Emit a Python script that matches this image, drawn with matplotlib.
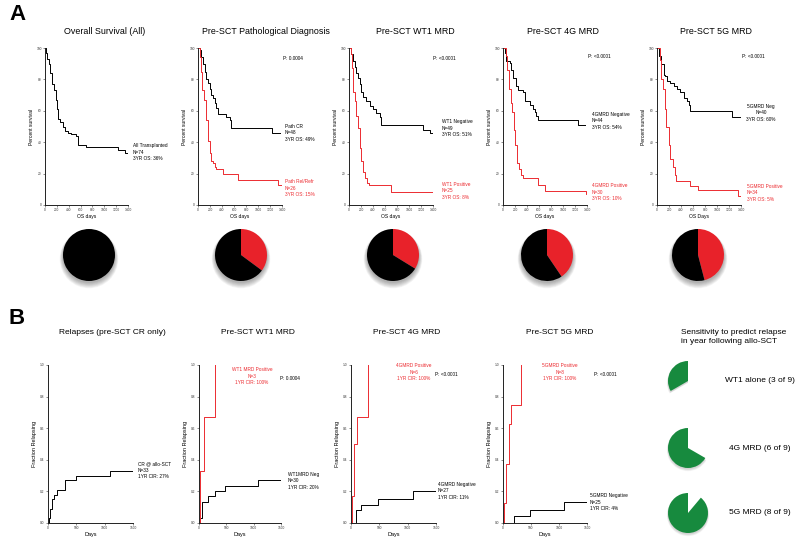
import matplotlib
matplotlib.use('Agg')
import matplotlib.pyplot as plt
from matplotlib.patches import Circle

plt.rcParams['font.family'] = ['Liberation Sans', 'DejaVu Sans']

W, H = 800, 544
fig = plt.figure(figsize=(8, 5.44), dpi=100)
fig.patch.set_facecolor('white')

RED = '#ec2b30'
PIE_RED = '#e8222a'
GREEN = '#178a3e'

# ---------------- data: panel A (overall survival, %) ----------------
os_all_t = [0, 20, 40, 60, 80, 110, 125, 155, 180, 205, 225, 250, 300, 340, 385, 440, 520, 565, 690, 1235, 1345]
os_all_s = [100, 97, 93, 90, 84, 81, 77, 73, 67, 61, 55, 53, 50, 47, 46, 45, 44, 38, 37, 35, 33]
os_all_end = 1400

path_cr_t = [0, 28, 56, 84, 112, 140, 167, 195, 223, 251, 279, 307, 335, 474, 530, 558, 1228]
path_cr_s = [100, 98.5, 94, 90, 85, 80, 78, 74, 70, 68, 65, 62, 58, 56, 54, 49, 46]
path_cr_end = 1370
path_rel_t = [0, 39, 56, 73, 100, 140, 167, 195, 223, 251, 279, 307, 418, 670, 1340]
path_rel_s = [100, 94, 85, 73, 67, 54, 41, 33, 28, 27, 24, 23, 20, 16, 13]
path_rel_end = 1395

wt1_neg_t = [0, 39, 67, 95, 123, 151, 179, 207, 234, 290, 346, 402, 458, 513, 541, 1239, 1350]
wt1_neg_s = [100, 96, 91.5, 88, 84, 81, 77, 72, 69, 66, 63, 61, 58.5, 56, 51, 48, 46]
wt1_neg_end = 1410
wt1_pos_t = [0, 28, 50, 67, 95, 123, 151, 179, 207, 234, 262, 301, 335, 700]
wt1_pos_s = [100, 96, 87, 72, 66, 57, 49, 36, 28, 21, 17, 14, 12.5, 8]
wt1_pos_end = 1420

g4_neg_t = [0, 28, 56, 112, 140, 167, 223, 251, 335, 363, 446, 502, 530, 558, 586, 1256]
g4_neg_s = [100, 97, 91.5, 90.5, 86, 81, 76, 73, 72, 66, 64, 61, 59, 57, 54, 51]
g4_neg_end = 1370
g4_pos_t = [0, 45, 73, 95, 128, 156, 179, 206, 234, 268, 307, 335, 586, 698, 1380]
g4_pos_s = [100, 95, 86, 74, 65, 59, 48, 38, 27, 23, 19, 17, 13, 9, 7]
g4_pos_end = 1420

g5_neg_t = [0, 28, 66, 111, 138, 166, 221, 277, 332, 387, 442, 498, 525, 553, 1244]
g5_neg_s = [100, 95, 89.5, 83, 82, 79, 78, 76, 74, 72, 68, 66, 64, 60, 56]
g5_neg_end = 1410
g5_pos_t = [0, 44, 72, 100, 127, 155, 194, 221, 265, 304, 321, 553, 691, 1350]
g5_pos_s = [100, 92.5, 80, 74, 61, 50, 38, 29, 24, 19, 15, 12, 9.5, 6]
g5_pos_end = 1420

# pies of panel A: patients negative (black) / positive (red)
pie_black = [74, 48, 49, 44, 40]
pie_red = [0, 26, 25, 30, 34]

# ---------------- data: panel B (cumulative incidence of relapse) ----------------
cr_t = [0, 18, 41, 71, 100, 159, 294, 488, 1088]
cr_v = [0, 0.03, 0.09, 0.15, 0.18, 0.21, 0.27, 0.30, 0.33]
cr_end = 1500
b_wt1_pos_t = [0, 25, 92, 300]
b_wt1_pos_v = [0, 0.33, 0.67, 1.0]
b_wt1_pos_end = 300
b_wt1_neg_t = [0, 12, 49, 165, 288, 483, 1083]
b_wt1_neg_v = [0, 0.03, 0.135, 0.168, 0.2, 0.232, 0.273]
b_wt1_neg_end = 1500
b_g4_pos_t = [0, 24, 47, 100, 307]
b_g4_pos_v = [0, 0.17, 0.5, 0.67, 1.0]
b_g4_pos_end = 307
b_g4_neg_t = [0, 83, 177, 484, 1092]
b_g4_neg_v = [0, 0.08, 0.116, 0.15, 0.2]
b_g4_neg_end = 1500
b_g5_pos_t = [0, 18, 60, 101, 143, 321]
b_g5_pos_v = [0, 0.125, 0.375, 0.625, 0.75, 1.0]
b_g5_pos_end = 321
b_g5_neg_t = [0, 190, 488, 1095]
b_g5_neg_v = [0, 0.042, 0.08, 0.133]
b_g5_neg_end = 1500

sens_labels = ['WT1 alone (3 of 9)', '4G MRD (6 of 9)', '5G MRD (8 of 9)']
sens_hits = [3, 6, 8]
sens_total = 9

a_titles = ['Overall Survival (All)', 'Pre-SCT Pathological Diagnosis', 'Pre-SCT WT1 MRD',
            'Pre-SCT 4G MRD', 'Pre-SCT 5G MRD']
b_titles = ['Relapses (pre-SCT CR only)', 'Pre-SCT WT1 MRD', 'Pre-SCT 4G MRD', 'Pre-SCT 5G MRD']
os_xticks = [0, 200, 400, 600, 800, 1000, 1200, 1400]
os_yticks = [0, 20, 40, 60, 80, 100]
cir_xticks = [0, 500, 1000, 1500]
cir_yticks = [0.0, 0.2, 0.4, 0.6, 0.8, 1.0]

ANN = 3.4  # annotation font size


def px_axes(l, t, r, b):
    return fig.add_axes([l / W, 1 - b / H, (r - l) / W, (b - t) / H])


def ftxt(x, y, s, **kw):
    kw.setdefault('va', 'center')
    fig.text(x / W, 1 - y / H, s, **kw)


def style_axes(ax):
    for sp in ['top', 'right']:
        ax.spines[sp].set_visible(False)
    for sp in ['left', 'bottom']:
        ax.spines[sp].set_linewidth(0.7)
        ax.spines[sp].set_color('#222222')
    ax.tick_params(axis='both', which='major', length=1.6, width=0.4, pad=0.8,
                   labelsize=2.3, colors='#333333')
    ax.tick_params(axis='both', which='minor', length=1.0, width=0.3)
    ax.patch.set_alpha(0)


def curve(ax, t, v, end, color):
    ax.step(list(t) + [end], list(v) + [v[-1]], where='post', color=color, lw=0.7)


def shadow(ax):
    for k in range(8):
        ax.add_patch(Circle((0, -0.07 - 0.012 * k), 1.0 + 0.018 * k, color='black',
                            alpha=0.045, lw=0, zorder=0))


# ---------------- Panel A ----------------
ftxt(17, 15, 'A', fontsize=16, fontweight='bold', ha='center')

a_boxes = [(45, 48, 128, 205), (198, 48, 282, 205), (349, 48, 433, 205),
           (503, 48, 587, 205), (657, 48, 741, 205)]
a_title_x = [105, 266, 415, 563, 716]
a_curves = [
    [(os_all_t, os_all_s, os_all_end, 'black')],
    [(path_cr_t, path_cr_s, path_cr_end, 'black'), (path_rel_t, path_rel_s, path_rel_end, RED)],
    [(wt1_neg_t, wt1_neg_s, wt1_neg_end, 'black'), (wt1_pos_t, wt1_pos_s, wt1_pos_end, RED)],
    [(g4_neg_t, g4_neg_s, g4_neg_end, 'black'), (g4_pos_t, g4_pos_s, g4_pos_end, RED)],
    [(g5_neg_t, g5_neg_s, g5_neg_end, 'black'), (g5_pos_t, g5_pos_s, g5_pos_end, RED)],
]
xlabels_a = ['OS days', 'OS days', 'OS days', 'OS days', 'OS Days']

for i, box in enumerate(a_boxes):
    ax = px_axes(*box)
    for (t, v, end, c) in a_curves[i]:
        curve(ax, t, v, end, c)
    ax.set_xlim(0, 1400)
    ax.set_ylim(0, 100)
    ax.set_xticks(os_xticks)
    ax.set_xticks(range(0, 1401, 100), minor=True)
    ax.set_yticks(os_yticks)
    style_axes(ax)
    ax.set_ylabel('Percent survival', fontsize=3.6, labelpad=1.5)
    ax.set_xlabel(xlabels_a[i], fontsize=3.6, labelpad=1.0)
    ftxt(a_title_x[i], 32, a_titles[i], fontsize=6.4, ha='center')

# annotations panel A
ftxt(133, 152, 'All Transplanted\nN=74\n3YR OS: 36%', fontsize=ANN, ha='left', linespacing=1.3)
ftxt(285, 133, 'Path CR\nN=48\n3YR OS: 49%', fontsize=ANN, ha='left', linespacing=1.3)
ftxt(285, 188, 'Path Rel/Refr\nN=26\n3YR OS: 15%', fontsize=ANN, ha='left', linespacing=1.3, color=RED)
ftxt(283, 58, 'P: 0.0004', fontsize=ANN, ha='left')
ftxt(442, 128, 'WT1 Negative\nN=49\n3YR OS: 51%', fontsize=ANN, ha='left', linespacing=1.3)
ftxt(442, 191, 'WT1 Positive\nN=25\n3YR OS: 8%', fontsize=ANN, ha='left', linespacing=1.3, color=RED)
ftxt(433, 58, 'P: <0.0001', fontsize=ANN, ha='left')
ftxt(592, 121, '4GMRD Negative\nN=44\n3YR OS: 54%', fontsize=ANN, ha='left', linespacing=1.3)
ftxt(592, 192, '4GMRD Positive\nN=30\n3YR OS: 10%', fontsize=ANN, ha='left', linespacing=1.3, color=RED)
ftxt(588, 56, 'P: <0.0001', fontsize=ANN, ha='left')
ftxt(761, 113, '5GMRD Neg\nN=40\n3YR OS: 60%', fontsize=ANN, ha='center', multialignment='center', linespacing=1.3)
ftxt(747, 193, '5GMRD Positive\nN=34\n3YR OS: 5%', fontsize=ANN, ha='left', linespacing=1.3, color=RED)
ftxt(742, 56, 'P: <0.0001', fontsize=ANN, ha='left')

# pies panel A
a_pie_cx = [89, 241, 393, 547, 698]
for i, cx in enumerate(a_pie_cx):
    r = 26
    s = 1.35 * r
    ax = px_axes(cx - s, 255 - s, cx + s, 255 + s)
    shadow(ax)
    vals = [pie_red[i], pie_black[i]]
    ax.pie(vals, colors=[PIE_RED, 'black'], startangle=90, counterclock=False,
           radius=1.0, wedgeprops=dict(lw=0))
    ax.set_xlim(-1.35, 1.35)
    ax.set_ylim(-1.35, 1.35)
    ax.set_aspect('equal')
    ax.axis('off')

# ---------------- Panel B ----------------
ftxt(17, 318, 'B', fontsize=16, fontweight='bold', ha='center')

b_boxes = [(48, 365, 133, 523), (199, 365, 281, 523), (351, 365, 436, 523), (503, 365, 587, 523)]
b_title_x = [112, 258, 407, 560]
b_curves = [
    [(cr_t, cr_v, cr_end, 'black')],
    [(b_wt1_neg_t, b_wt1_neg_v, b_wt1_neg_end, 'black'), (b_wt1_pos_t, b_wt1_pos_v, b_wt1_pos_end, RED)],
    [(b_g4_neg_t, b_g4_neg_v, b_g4_neg_end, 'black'), (b_g4_pos_t, b_g4_pos_v, b_g4_pos_end, RED)],
    [(b_g5_neg_t, b_g5_neg_v, b_g5_neg_end, 'black'), (b_g5_pos_t, b_g5_pos_v, b_g5_pos_end, RED)],
]
for i, box in enumerate(b_boxes):
    ax = px_axes(*box)
    for (t, v, end, c) in b_curves[i]:
        curve(ax, t, v, end, c)
    ax.set_xlim(0, 1500)
    ax.set_ylim(0, 1.0)
    ax.set_xticks(cir_xticks)
    ax.set_yticks(cir_yticks)
    ax.set_yticklabels(['%.1f' % v for v in cir_yticks])
    style_axes(ax)
    ax.set_ylabel('Fraction Relapsing', fontsize=4.0, labelpad=2.0)
    ax.set_xlabel('Days', fontsize=4.0, labelpad=1.5)
    ftxt(b_title_x[i], 332, b_titles[i], fontsize=6.0, ha='center')

ftxt(681, 337, 'Sensitivity to predict relapse\nin year following allo-SCT', fontsize=6.0,
     ha='left', linespacing=1.35)

ftxt(138, 470, 'CR @ allo-SCT\nN=33\n1YR CIR: 27%', fontsize=ANN, ha='left', linespacing=1.3)
ftxt(288, 481, 'WT1MRD Neg\nN=30\n1YR CIR: 20%', fontsize=ANN, ha='left', linespacing=1.3)
ftxt(252, 376, 'WT1 MRD Positive\nN=3\n1YR CIR: 100%', fontsize=ANN, ha='center',
     multialignment='center', linespacing=1.3, color=RED)
ftxt(280, 379, 'P: 0.0004', fontsize=ANN, ha='left')
ftxt(438, 491, '4GMRD Negative\nN=27\n1YR CIR: 11%', fontsize=ANN, ha='left', linespacing=1.3)
ftxt(414, 372, '4GMRD Positive\nN=6\n1YR CIR: 100%', fontsize=ANN, ha='center',
     multialignment='center', linespacing=1.3, color=RED)
ftxt(435, 374, 'P: <0.0001', fontsize=ANN, ha='left')
ftxt(590, 502, '5GMRD Negative\nN=25\n1YR CIR: 4%', fontsize=ANN, ha='left', linespacing=1.3)
ftxt(560, 372, '5GMRD Positive\nN=8\n1YR CIR: 100%', fontsize=ANN, ha='center',
     multialignment='center', linespacing=1.3, color=RED)
ftxt(594, 374, 'P: <0.0001', fontsize=ANN, ha='left')

# sensitivity pies
b_pie_cy = [381, 448, 513]
for i, cy in enumerate(b_pie_cy):
    cx = 688
    r = 20
    s = 1.35 * r
    ax = px_axes(cx - s, cy - s, cx + s, cy + s)
    miss = sens_total - sens_hits[i]
    wedges, _ = ax.pie([miss, sens_hits[i]], colors=['white', GREEN], startangle=90,
                       counterclock=False, radius=1.0, wedgeprops=dict(lw=0))
    wedges[0].set_visible(False)
    for k in range(5):
        sh = matplotlib.patches.Wedge((0, -0.06 - 0.01 * k), 1.0 + 0.015 * k,
                                      wedges[1].theta1, wedges[1].theta2,
                                      color='black', alpha=0.035, lw=0, zorder=0)
        ax.add_patch(sh)
    ax.set_xlim(-1.35, 1.35)
    ax.set_ylim(-1.35, 1.35)
    ax.set_aspect('equal')
    ax.axis('off')
    ftxt(760, cy, sens_labels[i], fontsize=6.0, ha='center')

fig.savefig('out.png', dpi=100, facecolor='white')
